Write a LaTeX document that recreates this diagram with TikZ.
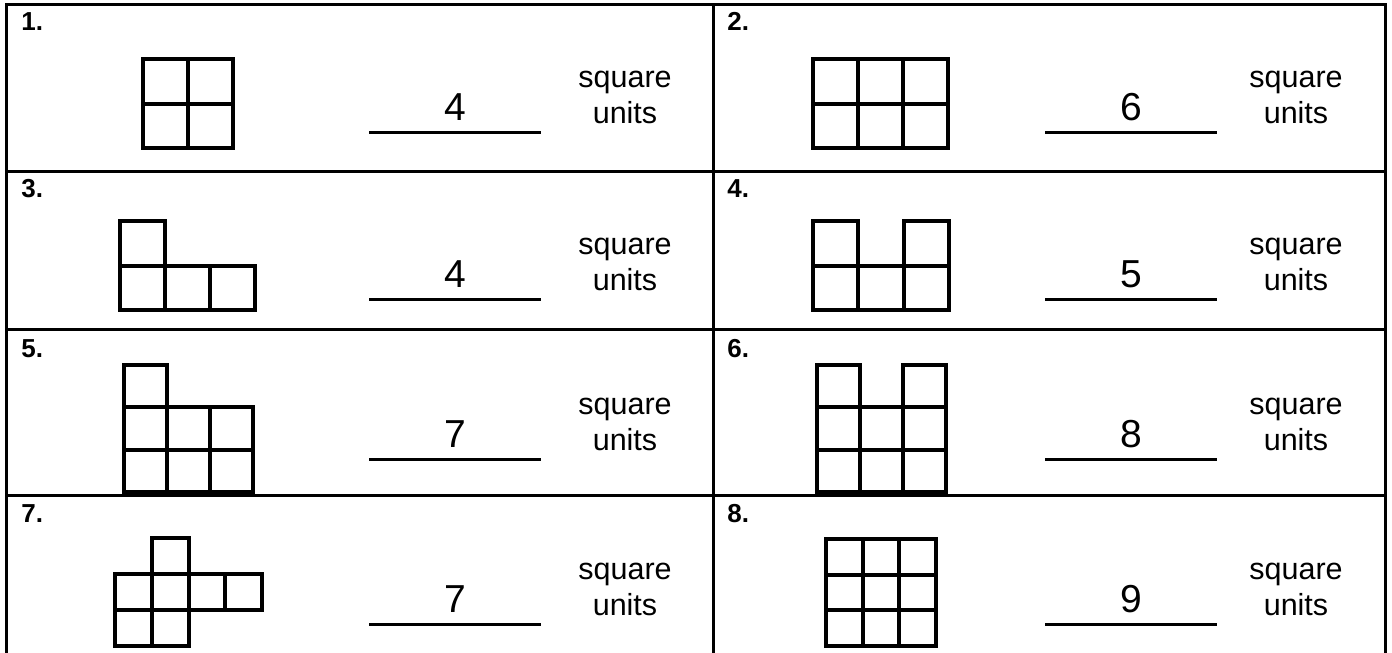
\documentclass[tikz,border=0pt]{standalone}
\usepackage{fontspec}
\setmainfont{Liberation Sans}

\tikzset{
  cellbox/.style={draw=black,line width=2pt},
  rule/.style={line width=1.5pt},
  numlabel/.style={anchor=base west,inner sep=0pt,font=\fontsize{13}{15}\selectfont\bfseries},
  answer/.style={anchor=base,inner sep=0pt,font=\fontsize{19.5}{22}\selectfont},
  unitword/.style={anchor=base,inner sep=0pt,font=\fontsize{15.25}{18}\selectfont},
}
% origin x, origin y, cell width, cell height, list of col/row
\newcommand{\blocks}[5]{%
  \foreach \c/\r in {#5}
    \draw[cellbox] ({#1+\c*#3},{#2+\r*#4}) rectangle ++(#3,#4);
}

\begin{document}
\begin{tikzpicture}[x=0.5pt,y=-0.5pt]
  \useasboundingbox (0,0) rectangle (1392,653);
  % frame
  \draw[rule] (6.5,653) -- (6.5,4.5) -- (1385.5,4.5) -- (1385.5,653);
  \draw[rule] (713,4.5) -- (713,653);
  \foreach \y in {171,329,495}
    \draw[rule] (6.5,\y) -- (1385.5,\y);
  % panels: number, left edge, answer x, words x, top, answer
  \foreach \n/\xl/\xn/\xs/\t/\a in {1/7/455/625/4/4,2/713/1131/1296/4/6,
      3/7/455/625/171/4,4/713/1131/1296/171/5,
      5/7/455/625/331/7,6/713/1131/1296/331/8,
      7/7/455/625/496/7,8/713/1131/1296/496/9}{
    \node[numlabel] (lab\n) at (\xl+14,\t+26) {\n.};
    \node[answer] (ans\n) at (\xn,\t+116) {\a};
    \draw[rule] (\xn-86,\t+128) -- (\xn+86,\t+128);
    \node[unitword] (sq\n) at (\xs,\t+83) {square};
    \node[unitword] (un\n) at (\xs,\t+119) {units};
  }
  % shapes
  \blocks{143}{59}{45}{44.5}{0/0,1/0,0/1,1/1}
  \blocks{813}{59}{45}{44.5}{0/0,1/0,2/0,0/1,1/1,2/1}
  \blocks{120}{221}{45}{44.5}{0/0,0/1,1/1,2/1}
  \blocks{813}{221}{45.3}{44.5}{0/0,2/0,0/1,1/1,2/1}
  \blocks{124}{365}{43}{42.3}{0/0,0/1,1/1,2/1,0/2,1/2,2/2}
  \blocks{817}{365}{43}{42.3}{0/0,2/0,0/1,1/1,2/1,0/2,1/2,2/2}
  \blocks{115}{538}{36.75}{36}{1/0,0/1,1/1,2/1,3/1,0/2,1/2}
  \blocks{826}{539}{36.7}{35.7}{0/0,1/0,2/0,0/1,1/1,2/1,0/2,1/2,2/2}
\end{tikzpicture}
\end{document}
